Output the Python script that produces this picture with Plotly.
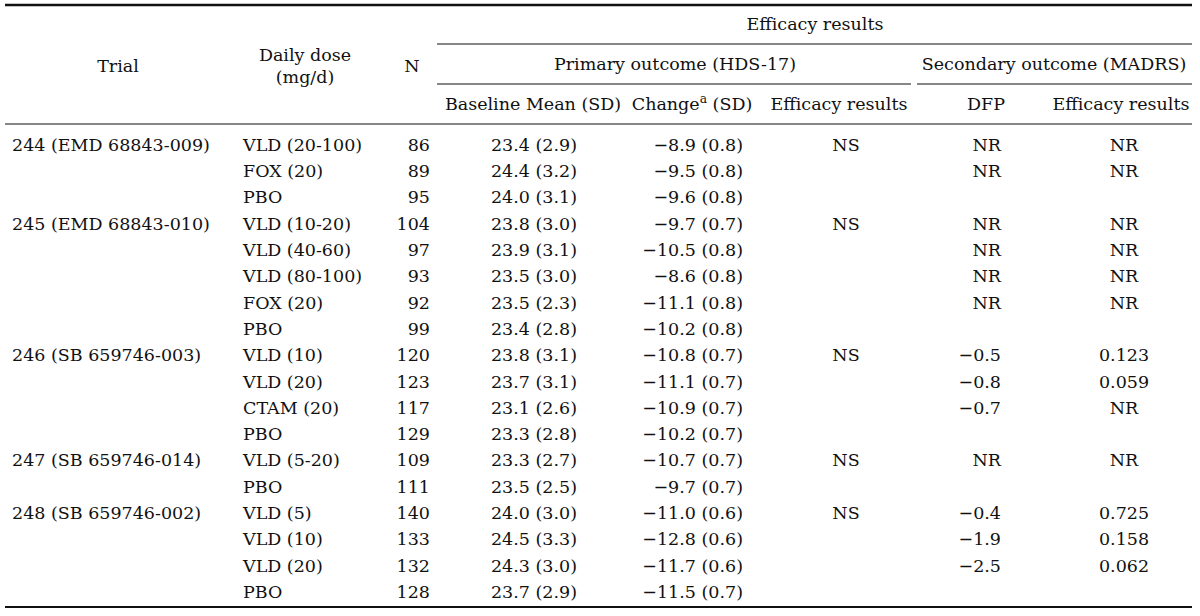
import plotly.graph_objects as go

# ---------------- data ----------------
trial_labels = ["244 (EMD 68843-009)", "", "",
                "245 (EMD 68843-010)", "", "", "", "",
                "246 (SB 659746-003)", "", "", "",
                "247 (SB 659746-014)", "",
                "248 (SB 659746-002)", "", "", ""]
doses = ["VLD (20-100)", "FOX (20)", "PBO",
         "VLD (10-20)", "VLD (40-60)", "VLD (80-100)", "FOX (20)", "PBO",
         "VLD (10)", "VLD (20)", "CTAM (20)", "PBO",
         "VLD (5-20)", "PBO",
         "VLD (5)", "VLD (10)", "VLD (20)", "PBO"]
n_patients = [86, 89, 95, 104, 97, 93, 92, 99, 120, 123, 117, 129, 109, 111, 140, 133, 132, 128]
baseline_mean = [23.4, 24.4, 24.0, 23.8, 23.9, 23.5, 23.5, 23.4, 23.8, 23.7, 23.1, 23.3, 23.3, 23.5, 24.0, 24.5, 24.3, 23.7]
baseline_sd = [2.9, 3.2, 3.1, 3.0, 3.1, 3.0, 2.3, 2.8, 3.1, 3.1, 2.6, 2.8, 2.7, 2.5, 3.0, 3.3, 3.0, 2.9]
change_mean = [-8.9, -9.5, -9.6, -9.7, -10.5, -8.6, -11.1, -10.2, -10.8, -11.1, -10.9, -10.2, -10.7, -9.7, -11.0, -12.8, -11.7, -11.5]
change_sd = [0.8, 0.8, 0.8, 0.7, 0.8, 0.8, 0.8, 0.8, 0.7, 0.7, 0.7, 0.7, 0.7, 0.7, 0.6, 0.6, 0.6, 0.7]
primary_efficacy = ["NS", "", "", "NS", "", "", "", "", "NS", "", "", "", "NS", "", "NS", "", "", ""]
dfp = ["NR", "NR", "", "NR", "NR", "NR", "NR", "", "−0.5", "−0.8", "−0.7", "", "NR", "", "−0.4", "−1.9", "−2.5", ""]
secondary_efficacy = ["NR", "NR", "", "NR", "NR", "NR", "NR", "", "0.123", "0.059", "NR", "", "NR", "", "0.725", "0.158", "0.062", ""]

header_top = "Efficacy results"
header_mid = ["Primary outcome (HDS-17)", "Secondary outcome (MADRS)"]
header_low = ["Baseline Mean (SD)", "Change<sup>a</sup> (SD)", "Efficacy results", "DFP", "Efficacy results"]

# ---------------- layout constants ----------------
W, H = 1200, 616
FONT = "DejaVu Serif"
FS = 17.5
COLOR = "#111111"
DY = 1.5  # vertical nudge of text baseline
ROW0, ROWH = 145 + DY, 26.3
rows_y = [ROW0 + i * ROWH for i in range(len(doses))]


def fmt_minus(v):
    s = f"{abs(v):.1f}"
    return ("\u2212" + s) if v < 0 else s


baseline_txt = [f"{m:.1f} ({s:.1f})" for m, s in zip(baseline_mean, baseline_sd)]
change_txt = [f"{fmt_minus(m)} ({s:.1f})" for m, s in zip(change_mean, change_sd)]
dfp_txt = [t.replace("−", "\u2212") for t in dfp]

fig = go.Figure()


def col(x, texts, ys, pos):
    fig.add_trace(go.Scatter(
        x=[x] * len(texts), y=ys, text=texts, mode="text",
        textposition=pos, textfont=dict(family=FONT, size=FS, color=COLOR),
        hoverinfo="skip", showlegend=False))


# body columns
col(12, trial_labels, rows_y, "middle right")
col(243, doses, rows_y, "middle right")
col(430, [str(v) for v in n_patients], rows_y, "middle left")
col(534, baseline_txt, rows_y, "middle center")
col(743, change_txt, rows_y, "middle left")
col(846, primary_efficacy, rows_y, "middle center")
col(1001, dfp_txt, rows_y, "middle left")
col(1124, secondary_efficacy, rows_y, "middle center")

# headers
col(118, ["Trial"], [66 + DY], "middle center")
col(305, ["Daily dose", "(mg/d)"], [55 + DY, 77 + DY], "middle center")
col(412, ["N"], [66 + DY], "middle center")
col(815, [header_top], [24 + DY], "middle center")
col(675, [header_mid[0]], [64 + DY], "middle center")
col(1054, [header_mid[1]], [64 + DY], "middle center")
col(533, [header_low[0]], [104 + DY], "middle center")
col(692, [header_low[1]], [104 + DY], "middle center")
col(839, [header_low[2]], [104 + DY], "middle center")
col(986, [header_low[3]], [104 + DY], "middle center")
col(1121, [header_low[4]], [104 + DY], "middle center")

# rules
shapes = []


def rule(x0, x1, y, w):
    shapes.append(dict(type="line", xref="x", yref="y", x0=x0, x1=x1, y0=y, y1=y,
                       line=dict(color=COLOR, width=w)))


rule(5, 1192, 5, 2.5)
rule(437, 1192, 44, 1.2)
rule(437, 911, 84, 1.2)
rule(917, 1192, 84, 1.2)
rule(5, 1192, 124, 1.2)
rule(5, 1192, 607, 2)

fig.update_layout(
    width=W, height=H, autosize=False,
    margin=dict(l=0, r=0, t=0, b=0),
    paper_bgcolor="white", plot_bgcolor="white",
    xaxis=dict(range=[0, W], visible=False, fixedrange=True),
    yaxis=dict(range=[H, 0], visible=False, fixedrange=True),
    shapes=shapes,
)

fig.write_html("out.html", config={"displayModeBar": False},
               post_script="document.body.style.margin='0';document.body.style.overflow='hidden';")
